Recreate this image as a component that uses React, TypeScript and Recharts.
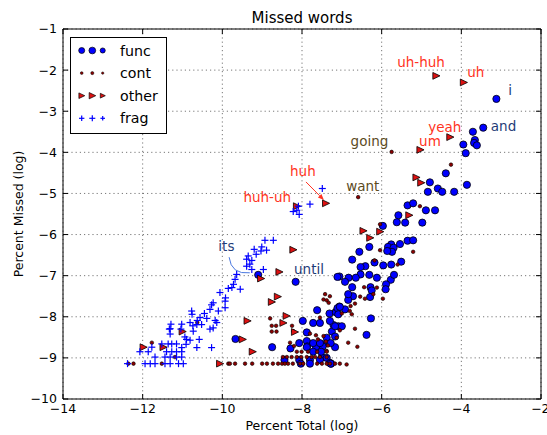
import React from 'react';
import { ScatterChart, Scatter, XAxis, YAxis, CartesianGrid, ReferenceLine, Legend, Label } from 'recharts';

const xTicks = [-14, -12, -10, -8, -6, -4, -2];
const yTicks = [-10, -9, -8, -7, -6, -5, -4, -3, -2, -1];

const funcPoints: [number, number][] = [
  [-3.12,-2.70],[-3.45,-3.40],[-3.71,-3.50],[-3.66,-3.70],[-3.68,-3.77],[-3.61,-3.83],[-3.95,-3.81],[-3.89,-4.02],
  [-4.39,-4.51],[-3.86,-4.79],[-4.79,-4.73],[-4.59,-4.88],[-4.48,-4.96],[-4.84,-4.96],[-4.18,-4.96],
  [-5.35,-5.29],[-5.21,-5.24],[-4.89,-5.41],[-4.66,-5.41],[-5.58,-5.53],[-5.62,-5.70],[-5.41,-5.71],[-4.98,-5.71],
  [-5.97,-5.79],[-6.31,-6.30],[-6.56,-6.42],[-6.74,-6.61],[-5.76,-6.24],[-5.79,-6.35],[-5.84,-6.30],[-5.70,-6.32],
  [-5.74,-6.42],[-5.86,-6.40],[-5.54,-6.23],[-5.35,-6.15],[-5.21,-6.14],[-5.51,-6.66],[-5.76,-6.73],[-5.96,-6.75],
  [-6.18,-6.68],[-6.41,-6.77],[-6.53,-6.79],[-6.53,-6.97],[-6.31,-6.98],[-6.12,-7.05],[-6.65,-7.05],[-6.83,-7.05],
  [-7.06,-7.02],[-6.92,-7.15],[-5.77,-7.10],[-5.69,-6.98],[-5.89,-7.21],[-5.90,-7.33],[-6.28,-7.28],[-6.25,-7.36],
  [-6.29,-7.52],[-6.74,-7.28],[-6.72,-7.50],[-6.84,-7.59],[-7.06,-7.75],[-7.15,-7.88],[-6.92,-7.82],[-6.27,-8.04],
  [-6.38,-8.44],[-7.21,-8.20],[-7.09,-8.23],[-7.00,-8.23],[-7.25,-8.36],[-7.17,-8.48],[-7.38,-8.51],[-7.46,-8.67],
  [-7.50,-8.98],[-7.38,-9.00],[-7.27,-9.14],
  [-9.10,-6.98],[-8.16,-7.15],[-7.11,-7.03],[-7.62,-7.84],[-7.31,-7.92],[-7.15,-7.89],[-7.11,-7.79],[-7.98,-8.10],
  [-7.72,-8.15],[-7.55,-8.15],[-7.88,-8.38],[-9.67,-8.54],[-7.88,-8.59],[-8.07,-8.64],[-7.87,-8.72],[-7.65,-8.74],
  [-7.48,-8.72],[-7.17,-8.74],[-8.75,-8.74],[-8.29,-8.77],[-8.44,-9.05],[-8.07,-9.05],[-7.80,-9.05],[-7.55,-9.05],
  [-7.30,-9.12],[-7.80,-9.14],[-8.03,-9.14],[-7.28,-9.14],[-7.17,-8.23],[-7.30,-8.10],[-7.09,-7.94],[-7.05,-7.76],
  [-6.84,-7.45],[-7.72,-8.64],[-7.55,-8.64],[-7.28,-8.64],[-7.88,-8.74],[-7.72,-8.85],[-7.52,-8.85]
];

const contPoints: [number, number][] = [
  [-5.75,-3.99],[-6.59,-5.09],[-4.26,-4.30],[-5.04,-5.31],[-6.04,-5.75],[-6.04,-6.38],[-5.21,-6.42],[-5.60,-6.73],
  [-6.18,-6.63],[-6.12,-7.29],[-5.97,-7.56],[-6.44,-7.28],[-6.54,-7.51],[-6.42,-7.56],[-6.21,-7.45],[-6.78,-7.74],
  [-6.67,-7.68],[-6.80,-7.86],[-7.00,-7.92],[-6.75,-7.94],[-6.67,-8.29],[-7.05,-8.33],[-7.13,-8.51],[-6.84,-8.63],
  [-6.61,-8.73],[-6.88,-9.16],[-7.42,-7.45],[-7.30,-7.50],[-7.46,-7.58],[-7.38,-8.83],[-7.17,-9.14],[-7.38,-9.14],
  [-7.38,-7.60],[-7.33,-7.66],[-8.80,-8.04],[-8.76,-8.22],[-8.65,-8.22],[-8.76,-8.36],[-8.64,-8.36],[-8.25,-8.22],
  [-8.22,-8.35],[-8.30,-8.63],[-8.20,-8.71],[-7.55,-8.02],[-7.80,-8.41],[-7.46,-8.47],[-7.65,-8.45],[-7.60,-8.55],
  [-7.40,-8.60],[-7.35,-8.70],
  [-12.36,-9.14],[-12.23,-9.14],[-11.52,-9.14],[-9.85,-9.14],[-9.81,-9.14],[-9.68,-9.14],[-9.43,-9.14],[-9.25,-9.14],
  [-9.00,-9.14],[-8.88,-9.14],[-8.73,-9.14],[-8.60,-9.14],[-8.50,-9.14],[-8.43,-9.14],[-8.35,-9.14],[-8.23,-9.14],
  [-8.05,-9.14],[-7.97,-9.14],[-7.62,-9.14],[-7.50,-9.14],[-7.30,-9.14],[-7.05,-9.14],
  [-11.19,-8.98],[-8.48,-8.98],[-8.38,-8.98],[-8.26,-8.98],[-8.13,-8.98],[-8.02,-8.98],[-7.88,-8.98],[-7.76,-8.98],
  [-7.67,-8.98],[-7.55,-8.98],[-7.38,-8.98],
  [-8.13,-8.85],[-8.01,-8.85],[-7.85,-8.85],[-7.62,-8.85],[-7.38,-8.85],
  [-11.77,-8.63],[-10.63,-8.14]
];

const otherPoints: [number, number][] = [
  [-4.63,-2.14],[-3.94,-2.30],[-4.28,-3.63],[-5.03,-3.94],[-5.13,-4.61],[-5.01,-4.74],[-7.40,-5.24],[-8.13,-5.31],
  [-8.22,-6.37],[-8.57,-6.91],[-9.03,-7.07],[-8.61,-7.51],[-5.31,-5.53],[-6.46,-5.91],[-6.04,-5.93],[-6.29,-6.08],
  [-8.76,-7.64],[-8.39,-7.98],[-9.37,-8.10],[-8.47,-8.15],[-8.18,-8.37],[-9.49,-8.55],[-9.24,-8.85],[-11.98,-8.74],
  [-11.48,-8.74],[-11.00,-8.36],[-10.06,-9.14]
];

const fragPoints: [number, number][] = [
  [-7.49,-4.88],[-7.80,-5.26],[-8.09,-5.31],[-8.13,-5.41],[-8.22,-5.44],[-8.07,-5.51],[-8.93,-6.14],[-8.72,-6.14],
  [-9.01,-6.30],[-8.89,-6.38],[-9.03,-6.40],[-9.20,-6.36],[-9.15,-6.48],[-9.35,-6.52],[-9.26,-6.63],[-9.39,-6.60],
  [-9.31,-6.72],[-9.39,-6.77],[-9.26,-6.85],[-8.97,-6.85],[-9.64,-6.97],[-9.68,-7.09],[-9.72,-7.21],[-9.76,-7.29],
  [-9.55,-7.33],[-10.06,-7.41],[-9.85,-7.31],[-9.92,-7.54],[-9.93,-7.62],[-10.23,-7.66],[-10.27,-7.71],[-10.31,-7.82],
  [-9.93,-7.78],[-10.10,-7.86],[-10.77,-7.86],[-10.76,-7.94],[-10.45,-7.92],[-10.39,-8.04],[-10.56,-8.02],[-10.63,-8.09],
  [-10.64,-8.19],[-10.52,-8.19],[-10.18,-8.09],[-10.14,-8.14],[-10.31,-8.30],[-10.23,-8.27],[-10.74,-8.22],[-10.73,-8.35],
  [-11.02,-8.18],[-11.29,-8.18],[-11.31,-8.29],[-11.04,-8.30],[-10.94,-8.49],[-10.90,-8.55],[-10.81,-8.57],[-10.91,-8.67],
  [-10.64,-8.75],[-10.58,-8.55],[-10.27,-8.75],[-11.36,-8.66],[-11.27,-8.66],[-11.15,-8.66],[-11.02,-8.75],[-11.52,-8.66],
  [-11.77,-8.74],[-12.07,-8.85],[-11.86,-8.85],[-11.40,-8.85],[-11.27,-8.85],[-11.15,-8.85],[-11.02,-8.85],[-11.69,-8.98],
  [-11.44,-8.98],[-11.31,-8.98],[-11.15,-8.98],[-11.02,-8.98],[-11.94,-9.14],[-11.81,-9.14],[-11.69,-9.14],[-11.44,-9.14],
  [-11.31,-9.14],[-11.10,-9.14],[-10.98,-9.14],[-12.38,-9.14],[-10.81,-8.14],[-11.33,-8.30],[-11.31,-8.42]
];

const RED = '#ff3322';
const NAVY = '#1f3c78';
const OLIVE = '#5c4b1e';

const wordLabels = ['uh-huh', 'uh', 'i', 'and', 'yeah', 'um', 'going', 'want', 'huh', 'huh-uh', 'its', 'until'];
const wordLabelX = [-5.61, -3.85, -2.82, -3.26, -4.83, -5.06, -6.78, -6.89, -8.30, -9.47, -10.10, -8.20];
const wordLabelY = [-1.92, -2.17, -2.61, -3.48, -3.50, -3.84, -3.85, -4.93, -4.57, -5.20, -6.39, -6.96];
const wordLabelColor = [RED, RED, NAVY, NAVY, RED, RED, OLIVE, OLIVE, RED, RED, NAVY, NAVY];

const huhArrow = [{ x: -7.90, y: -4.72 }, { x: -7.45, y: -5.16 }];
const itsArrow = [{ x: -9.83, y: -6.55 }, { x: -9.31, y: -6.93 }];

const toData = (pts: [number, number][]) => pts.map(([x, y]) => ({ x, y }));
const funcData = toData(funcPoints);
const contData = toData(contPoints);
const otherData = toData(otherPoints);
const fragData = toData(fragPoints);
const labelData = wordLabels.map((text, i) => ({ x: wordLabelX[i], y: wordLabelY[i], text, color: wordLabelColor[i] }));

const FONT = 'DejaVu Sans';
const fmt = (v: number) => (v < 0 ? '\u2212' + Math.abs(v) : String(v));

const FuncShape = (p: any) => <circle cx={p.cx} cy={p.cy} r={3.6} fill="#0000ff" stroke="#000" strokeWidth={0.8} />;
const ContShape = (p: any) => <circle cx={p.cx} cy={p.cy} r={1.8} fill="#8b0000" stroke="#000" strokeWidth={0.6} />;
const tri = (cx: number, cy: number, s: number) =>
  `${cx - s},${cy - s} ${cx + s * 1.1},${cy} ${cx - s},${cy + s}`;
const OtherShape = (p: any) => <polygon points={tri(p.cx, p.cy, 3.4)} fill="#dd1111" stroke="#000" strokeWidth={0.8} />;
const plus = (cx: number, cy: number, s: number, key?: any) => (
  <g key={key}>
    <line x1={cx - s} y1={cy} x2={cx + s} y2={cy} stroke="#0000ff" strokeWidth={1.2} />
    <line x1={cx} y1={cy - s} x2={cx} y2={cy + s} stroke="#0000ff" strokeWidth={1.2} />
  </g>
);
const FragShape = (p: any) => plus(p.cx, p.cy, 3.5);
const LabelShape = (p: any) => (
  <text x={p.cx} y={p.cy} fill={p.payload.color} fontSize={13.5} fontFamily={FONT}>{p.payload.text}</text>
);

const HuhArrowShape = (p: any) => {
  const { x1, y1, x2, y2 } = p;
  const ang = Math.atan2(y2 - y1, x2 - x1);
  const L = 6, W = 2.5;
  const bx = x2 - L * Math.cos(ang), by = y2 - L * Math.sin(ang);
  const px = -Math.sin(ang) * W, py = Math.cos(ang) * W;
  return (
    <g>
      <line x1={x1} y1={y1} x2={bx} y2={by} stroke={RED} strokeWidth={1} />
      <polygon points={`${x2},${y2} ${bx + px},${by + py} ${bx - px},${by - py}`} fill={RED} />
    </g>
  );
};
const ItsArrowShape = (p: any) => {
  const { x1, y1, x2, y2 } = p;
  const cx = x1 + (x2 - x1) * 0.1, cy = y2 + 2;
  return <path d={`M${x1},${y1} Q${cx},${cy} ${x2},${y2}`} fill="none" stroke="#4a78e0" strokeWidth={1} />;
};

const legendRows = [
  { name: 'func', kind: 'func' },
  { name: 'cont', kind: 'cont' },
  { name: 'other', kind: 'other' },
  { name: 'frag', kind: 'frag' },
];
const legendScale = [1, 1.12, 0.85];

const LegendBox = () => (
  <svg width={97} height={97} style={{ display: 'block' }}>
    <rect x={0.5} y={0.5} width={96} height={96} fill="#fff" stroke="#000" strokeWidth={1} />
    {legendRows.map((r, i) => {
      const cy = 13.5 + i * 22.6;
      const xs = [11.7, 22.3, 32.7];
      return (
        <g key={r.name}>
          {xs.map((x, j) => {
            const s = legendScale[j];
            if (r.kind === 'func') return <circle key={j} cx={x} cy={cy} r={3 * s} fill="#0000ff" stroke="#000" strokeWidth={0.7} />;
            if (r.kind === 'cont') return <circle key={j} cx={x} cy={cy} r={1.4 * s} fill="#8b0000" stroke="#000" strokeWidth={0.5} />;
            if (r.kind === 'other') return <polygon key={j} points={tri(x, cy, 2.8 * s)} fill="#dd1111" stroke="#000" strokeWidth={0.7} />;
            return plus(x, cy, 2.7 * s, j);
          })}
          <text x={50} y={cy + 5} fontSize={14.2} fontFamily={FONT} fill="#000">{r.name}</text>
        </g>
      );
    })}
  </svg>
);

export default function App() {
  const tickStyle = { fill: '#000', fontSize: 12.5, fontFamily: FONT };
  return (
    <div style={{ position: 'absolute', left: 0, top: 0, width: 547, height: 435, background: '#fff' }}>
      <ScatterChart width={547} height={435} margin={{ top: 0, right: 0, bottom: 0, left: 0 }} style={{ fontFamily: FONT }}>
        <CartesianGrid stroke="#555" strokeDasharray="1.2 3" strokeWidth={0.8} />
        <XAxis
          dataKey="x" type="number" domain={[-14, -2]} ticks={xTicks} tickFormatter={fmt}
          height={36} tickSize={-5} tickMargin={10} tick={tickStyle}
          axisLine={{ stroke: '#000', strokeWidth: 1 }} tickLine={{ stroke: '#000' }} allowDataOverflow
        >
          <Label value="Percent Total (log)" position="insideBottom" offset={5} style={{ fontSize: 12.5, fontFamily: FONT, fill: '#000' }} />
        </XAxis>
        <XAxis
          xAxisId="top" orientation="top" dataKey="x" type="number" domain={[-14, -2]} ticks={xTicks}
          height={29} tickSize={-5} tick={() => <g />}
          axisLine={{ stroke: '#000', strokeWidth: 1 }} tickLine={{ stroke: '#000' }} allowDataOverflow
        >
          <Label value="Missed words" position="insideBottom" offset={6} style={{ fontSize: 15, fontFamily: FONT, fill: '#000' }} />
        </XAxis>
        <YAxis
          dataKey="y" type="number" domain={[-10, -1]} ticks={yTicks} tickFormatter={fmt}
          width={63} tickSize={-5} tickMargin={11} tick={tickStyle}
          axisLine={{ stroke: '#000', strokeWidth: 1 }} tickLine={{ stroke: '#000' }} allowDataOverflow
        >
          <Label
            content={(props: any) => {
              const vb = props.viewBox || { x: 0, y: 29, width: 63, height: 370 };
              const cx = vb.x + 23;
              const cy = vb.y + vb.height / 2;
              return (
                <text x={cx} y={cy} transform={`rotate(-90, ${cx}, ${cy})`} textAnchor="middle" fontSize={12.5} fontFamily={FONT} fill="#000">
                  Percent Missed (log)
                </text>
              );
            }}
          />
        </YAxis>
        <YAxis
          yAxisId="right" orientation="right" dataKey="y" type="number" domain={[-10, -1]} ticks={yTicks}
          width={6} tickSize={-5} tick={() => <g />}
          axisLine={{ stroke: '#000', strokeWidth: 1 }} tickLine={{ stroke: '#000' }} allowDataOverflow
        />
        <Legend
          layout="horizontal" verticalAlign="middle" align="center"
          wrapperStyle={{ position: 'absolute', top: 37, left: 70, width: 97, height: 97 }}
          content={() => <LegendBox />}
        />
        <Scatter name="func" data={funcData} shape={FuncShape} isAnimationActive={false} />
        <Scatter name="cont" data={contData} shape={ContShape} isAnimationActive={false} />
        <Scatter name="other" data={otherData} shape={OtherShape} isAnimationActive={false} />
        <Scatter name="frag" data={fragData} shape={FragShape} isAnimationActive={false} />
        <ReferenceLine segment={huhArrow} shape={HuhArrowShape} ifOverflow="visible" />
        <ReferenceLine segment={itsArrow} shape={ItsArrowShape} ifOverflow="visible" />
        <Scatter name="labels" data={labelData} shape={LabelShape} isAnimationActive={false} legendType="none" />
      </ScatterChart>
    </div>
  );
}
